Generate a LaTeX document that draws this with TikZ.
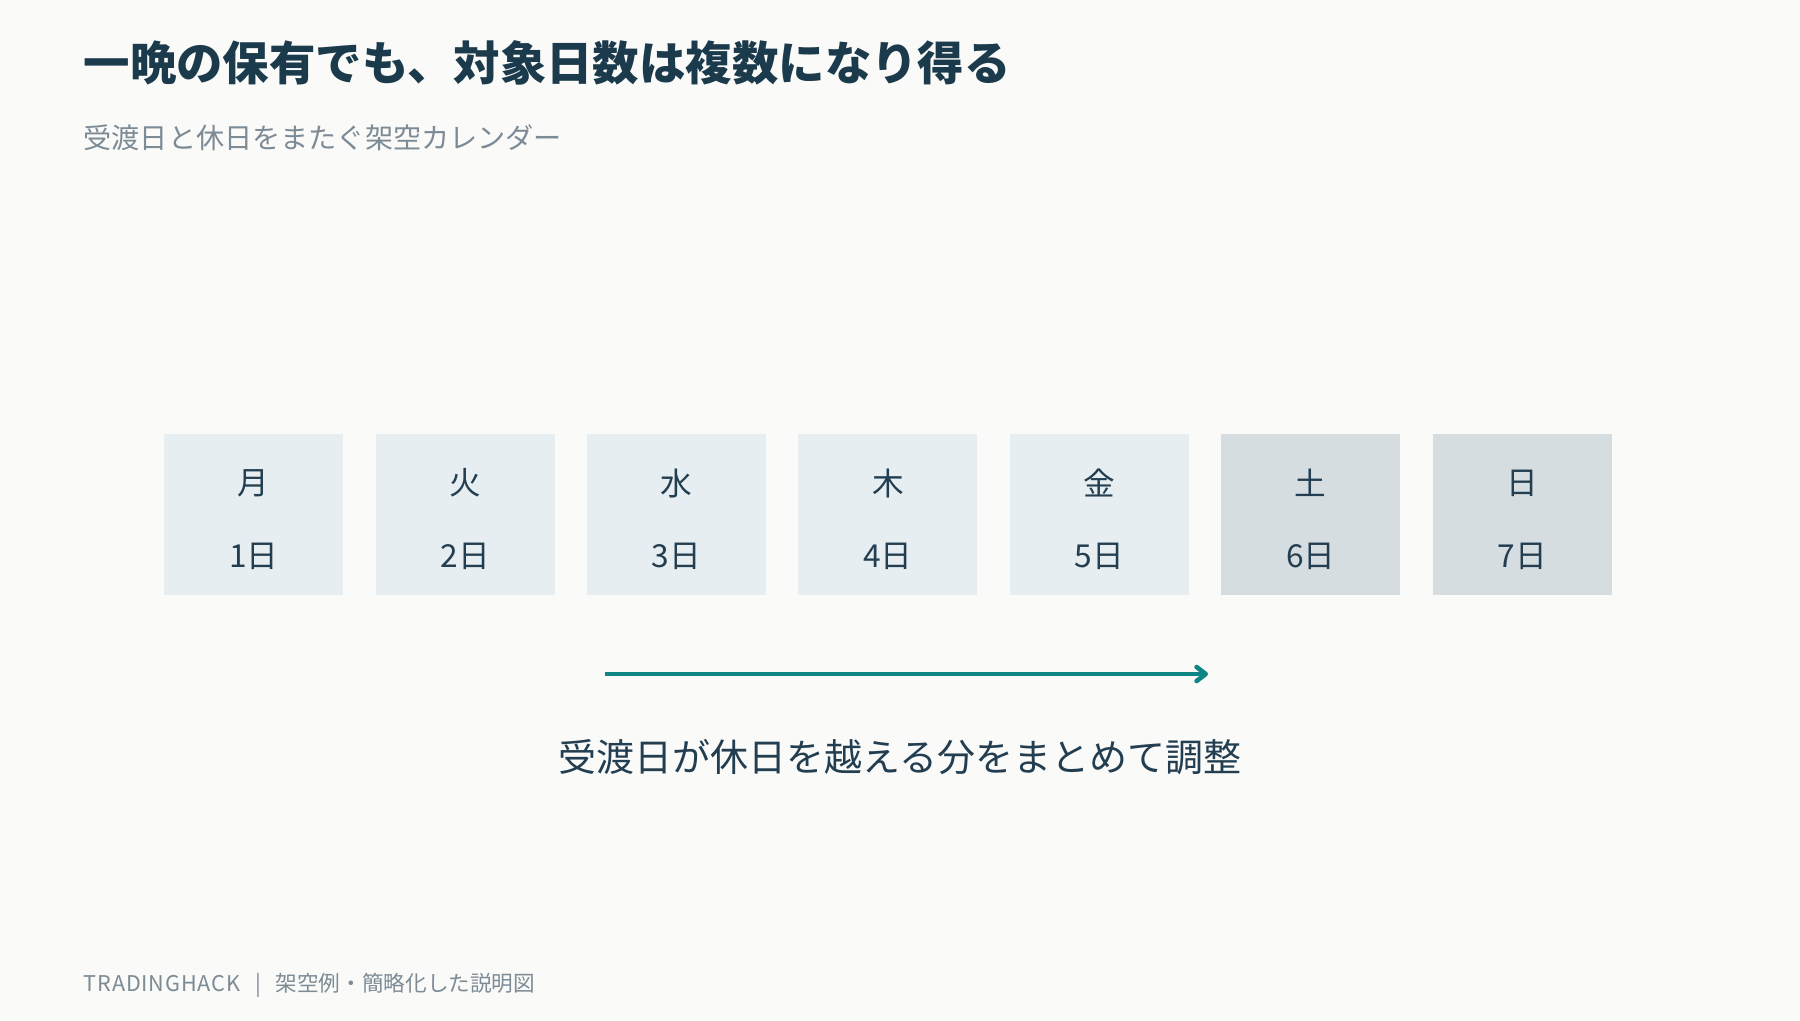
\documentclass[tikz,border=0pt]{standalone}
\usepackage{fontspec}
\setmainfont{Noto Sans CJK JP}
\usepackage{xcolor}
\usetikzlibrary{arrows.meta}
\definecolor{mybg}{HTML}{FAFAF9}
\definecolor{mytitle}{HTML}{1B3A4B}
\definecolor{mygray}{HTML}{7D8B95}
\definecolor{myday}{HTML}{E6EEF1}
\definecolor{myend}{HTML}{D5DDE1}
\definecolor{mytext}{HTML}{223E50}
\definecolor{myteal}{HTML}{0E8686}
\tikzstyle{daybox} = [fill=myday, minimum width=1.79cm, minimum height=1.61cm, inner sep=0pt]
\tikzstyle{endbox} = [daybox, fill=myend]
\tikzstyle{daylbl} = [color=mytext, font=\fontsize{9}{9}\selectfont, inner sep=0pt]
\tikzstyle{arrow} = [line width=1.3pt,-{Straight Barb[length=2.6pt,width=4pt,round]},color=myteal]

\begin{document}
\begin{tikzpicture}[x=0.01cm,y=-0.01cm]
        \fill[mybg] (0,0) rectangle (1800,1020);
        \useasboundingbox (0,0) rectangle (1800,1020);
        % Heading
        \draw[color=mytitle] (83,63) node[anchor=west,inner sep=0pt,font=\fontsize{13.2}{13.2}\selectfont\bfseries] (title) {一晩の保有でも、対象日数は複数になり得る};
        \draw[color=mygray] (83,138) node[anchor=west,inner sep=0pt,font=\fontsize{8}{8}\selectfont] (sub) {受渡日と休日をまたぐ架空カレンダー};
        % Days
        \draw (253.7,514.5) node[daybox] (d1) {};
        \draw (465.1,514.5) node[daybox] (d2) {};
        \draw (676.5,514.5) node[daybox] (d3) {};
        \draw (887.9,514.5) node[daybox] (d4) {};
        \draw (1099.3,514.5) node[daybox] (d5) {};
        \draw (1310.7,514.5) node[endbox] (d6) {};
        \draw (1522.1,514.5) node[endbox] (d7) {};
        \draw (253.7,483) node[daylbl] (w1) {月};
        \draw (465.1,483) node[daylbl] (w2) {火};
        \draw (676.5,483) node[daylbl] (w3) {水};
        \draw (887.9,483) node[daylbl] (w4) {木};
        \draw (1099.3,483) node[daylbl] (w5) {金};
        \draw (1310.7,483) node[daylbl] (w6) {土};
        \draw (1522.1,483) node[daylbl] (w7) {日};
        \draw (253.7,556) node[daylbl] (n1) {1日};
        \draw (465.1,556) node[daylbl] (n2) {2日};
        \draw (676.5,556) node[daylbl] (n3) {3日};
        \draw (887.9,556) node[daylbl] (n4) {4日};
        \draw (1099.3,556) node[daylbl] (n5) {5日};
        \draw (1310.7,556) node[daylbl] (n6) {6日};
        \draw (1522.1,556) node[daylbl] (n7) {7日};
        % Shift
        \coordinate (a1) at (605,674);
        \coordinate (a2) at (1208,674);
        \draw[arrow] (a1) -- (a2);
        \draw[color=mytext] (900,757) node[inner sep=0pt,font=\fontsize{10.8}{10.8}\selectfont] (cap) {受渡日が休日を越える分をまとめて調整};
        % Footer
        \draw[color=mygray] (83,985) node[anchor=west,inner sep=0pt,font=\fontsize{6.15}{6.15}\selectfont] (foot) {\addfontfeatures{LetterSpace=4}TRADINGHACK\hspace{4.2pt}|\hspace{4.2pt}\addfontfeatures{LetterSpace=0}架空例・簡略化した説明図};
    \end{tikzpicture}
\end{document}
